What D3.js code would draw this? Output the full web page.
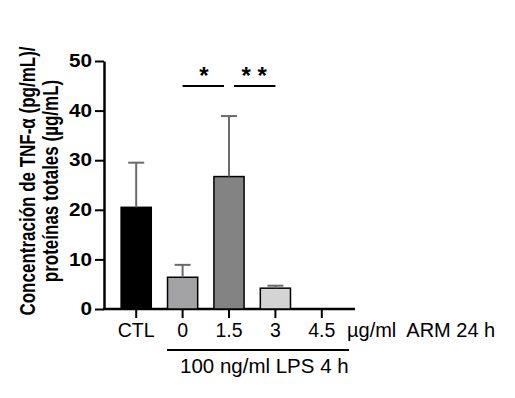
<!DOCTYPE html>
<html>
<head>
<meta charset="utf-8">
<script src="https://cdn.jsdelivr.net/npm/d3@7"></script>
<style>
  body { margin: 0; background: #fff; }
  text { font-family: "Liberation Sans", Arial, sans-serif; }
</style>
</head>
<body>
<svg width="515" height="398"></svg>
<script>
// data
var groups = ["CTL", "0", "1.5", "3", "4.5"];
var means = [20.5, 6.4, 26.7, 4.2, 0];
var sds = [9.0, 2.5, 12.2, 0.5, 0];
var fills = ["#000000", "#a3a3a6", "#838383", "#d4d4d4", "#ffffff"];
var yTicks = [0, 10, 20, 30, 40, 50];
var sigs = [{from: "0", to: "1.5", label: "*"}, {from: "1.5", to: "3", label: "* *"}];

var svg = d3.select("svg");

var y = d3.scaleLinear().domain([0, 50]).range([309, 61]);
var x = d3.scaleBand().domain(groups).range([113, 345])
    .paddingInner(0.35).paddingOuter(0.175);

// y axis
var yAxis = svg.append("g")
    .attr("transform", "translate(104,0)")
    .call(d3.axisLeft(y).tickValues(yTicks).tickSize(9).tickSizeOuter(0).tickPadding(3));
yAxis.select(".domain").attr("stroke-width", 2.5);
yAxis.selectAll(".tick line").attr("stroke-width", 2);
yAxis.selectAll("text")
    .style("font-size", "18px").style("font-weight", "bold").attr("fill", "#000")
    .attr("transform", function() { return "translate(" + this.getAttribute("x") + ",0) scale(1.15,1)"; })
    .attr("x", 0);

// x axis
var xAxis = svg.append("g")
    .attr("transform", "translate(0,309)")
    .call(d3.axisBottom(x).tickSize(9).tickPadding(5));
xAxis.select(".domain").remove();
xAxis.selectAll(".tick line").attr("stroke-width", 2);
xAxis.selectAll("text").style("font-size", "19.5px").attr("fill", "#000");

svg.append("line")
    .attr("x1", 103).attr("x2", 355)
    .attr("y1", 309).attr("y2", 309)
    .attr("stroke", "#000").attr("stroke-width", 2.5);

// bars
svg.selectAll(".bar")
  .data(groups.filter(function(g, i) { return means[i] > 0; }))
  .enter().append("rect")
    .attr("class", "bar")
    .attr("x", function(d) { return x(d); })
    .attr("width", x.bandwidth())
    .attr("y", function(d) { return y(means[groups.indexOf(d)]); })
    .attr("height", function(d) { return y(0) - y(means[groups.indexOf(d)]); })
    .attr("fill", function(d) { return fills[groups.indexOf(d)]; })
    .attr("stroke", "#000")
    .attr("stroke-width", 1.5);

// error bars
var eb = svg.selectAll(".err")
  .data(groups.filter(function(g, i) { return sds[i] > 0; }))
  .enter().append("g").attr("class", "err");
eb.append("line")
    .attr("x1", function(d) { return x(d) + x.bandwidth() / 2; })
    .attr("x2", function(d) { return x(d) + x.bandwidth() / 2; })
    .attr("y1", function(d) { var i = groups.indexOf(d); return y(means[i]); })
    .attr("y2", function(d) { var i = groups.indexOf(d); return y(means[i] + sds[i]); })
    .attr("stroke", "#6a6a6a").attr("stroke-width", 2);
eb.append("line")
    .attr("x1", function(d) { return x(d) + x.bandwidth() / 2 - 8; })
    .attr("x2", function(d) { return x(d) + x.bandwidth() / 2 + 8; })
    .attr("y1", function(d) { var i = groups.indexOf(d); return y(means[i] + sds[i]); })
    .attr("y2", function(d) { var i = groups.indexOf(d); return y(means[i] + sds[i]); })
    .attr("stroke", "#6a6a6a").attr("stroke-width", 2);

// significance
var sg = svg.selectAll(".sig").data(sigs).enter().append("g").attr("class", "sig");
sg.append("line")
    .attr("x1", function(d, i) { return x(d.from) + x.bandwidth() / 2 + (i == 1 ? 5 : 0); })
    .attr("x2", function(d, i) { return x(d.to) + x.bandwidth() / 2 - (i == 0 ? 5 : 0); })
    .attr("y1", 86).attr("y2", 86)
    .attr("stroke", "#000").attr("stroke-width", 2);
sg.append("text")
    .attr("x", function(d, i) { return (x(d.from) + x(d.to)) / 2 + x.bandwidth() / 2 + (i == 0 ? -2 : 2); })
    .attr("y", 84)
    .attr("text-anchor", "middle")
    .style("font-size", "24px").style("font-weight", "bold")
    .style("white-space", "pre")
    .text(function(d) { return d.label; });

// y title
var yt = svg.append("g").attr("transform", "translate(35,181) scale(1.3,1) rotate(-90)");
yt.append("text").attr("text-anchor", "middle")
    .style("font-size", "17px").style("font-weight", "bold")
    .text("Concentración de TNF-α (pg/mL)/");
yt.append("text").attr("text-anchor", "middle").attr("y", 17.5)
    .style("font-size", "17px").style("font-weight", "bold")
    .text("proteínas totales (µg/mL)");

// treatment labels
svg.append("text")
    .attr("x", 347).attr("y", 337)
    .style("font-size", "20px").style("white-space", "pre")
    .text("µg/ml  ARM 24 h");
svg.append("line")
    .attr("x1", 167).attr("x2", 349).attr("y1", 350).attr("y2", 350)
    .attr("stroke", "#000").attr("stroke-width", 2);
svg.append("text")
    .attr("x", 180).attr("y", 373)
    .style("font-size", "20.5px")
    .text("100 ng/ml LPS 4 h");
</script>
</body>
</html>
